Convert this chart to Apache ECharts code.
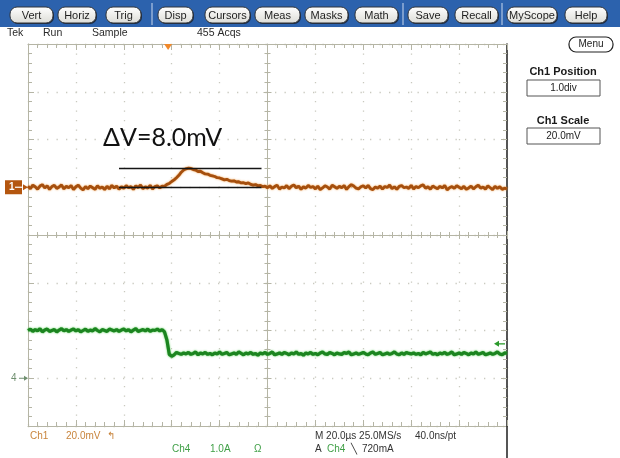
<!DOCTYPE html>
<html>
<head>
<meta charset="utf-8">
<script src="https://cdn.jsdelivr.net/npm/echarts@6/dist/echarts.min.js"></script>
<style>
  html, body { margin: 0; padding: 0; background: #ffffff; }
  #scope { width: 620px; height: 458px; }
</style>
</head>
<body>
<div id="scope"></div>
<script>
// ---- acquisition settings ----
const sampleStepUs = 1;          // record spacing, µs
const timePerDivUs = 20;         // M 20.0µs
const ch1ScaleMv = 20;           // Ch1 20.0mV/div
const ch1PositionDiv = 1.0;      // Ch1 position 1.0div
const ch4ScaleA = 1.0;           // Ch4 1.0A/div
const ch4PositionDiv = -3;       // Ch4 ground marker
const triggerUs = 58.5;          // trigger point on the record
const triggerLevelA = 0.72;      // A Ch4 \ 720mA

// ---- Ch1 voltage (mV), one sample per µs ----
const ch1Mv = [
  0.4,-0.6,0.9,0.2,-0.8,0.5,1.1,-0.3,0.6,-0.9,0.3,0.8,-0.5,0.1,1.0,-0.7,0.4,-0.2,0.7,-1.0,
  0.2,0.9,-0.4,-1.1,0.3,-0.6,0.5,-0.2,-0.9,0.6,-0.4,0.1,-1.0,0.4,-0.7,0.8,-0.3,0.5,-0.8,0.2,
  -0.5,0.7,-0.2,0.3,-0.9,0.6,-0.1,0.9,-0.6,0.2,-0.4,0.8,-0.7,0.3,0.6,-0.3,0.5,
  0.4,1.2,1.6,2.4,3.1,4.0,5.0,6.3,7.2,7.7,
  8.0,7.9,7.4,7.2,6.6,6.7,6.1,5.6,5.5,5.0,
  4.8,4.5,4.0,3.9,3.5,3.1,3.3,2.8,2.6,2.7,
  2.2,2.3,1.8,1.9,1.5,1.8,1.2,0.9,1.1,0.6,
  0.8,0.2,0.5,-0.2,
  0.6,-0.5,0.3,0.9,-0.8,0.1,-0.3,0.7,-0.6,0.4,1.0,-0.2,0.5,-0.9,0.2,-0.4,0.8,-0.1,0.3,-0.7,
  0.5,-1.0,-0.3,0.6,0.1,-0.8,0.9,0.2,-0.5,0.4,-0.2,0.7,-0.9,0.3,1.1,0.5,-0.4,-0.7,0.2,0.6,
  -0.3,0.8,-0.6,-1.0,0.1,-0.4,0.5,-0.8,0.3,-0.1,0.9,-0.6,0.2,-0.9,0.4,0.7,-0.2,0.1,-0.5,0.8,
  -0.7,0.3,-0.2,0.6,1.0,-0.4,0.2,-0.8,0.5,-0.1,-0.6,0.4,-0.3,0.8,-1.1,-0.2,0.3,-0.5,0.7,0.0,
  -0.6,0.4,-0.9,-0.3,0.5,-0.7,0.2,0.9,-0.4,0.1,-0.8,0.6,-0.2,-1.0,0.4,-0.5,0.2,-0.9,-0.4,-0.7
];

// ---- Ch4 current (A), one sample per µs ----
const ch4Amp = [
  1.00,1.03,0.98,1.02,0.99,1.04,0.97,1.01,1.03,0.98,1.00,1.02,0.97,1.01,1.04,0.99,1.02,0.98,1.01,1.03,
  0.99,1.02,0.97,1.00,1.03,0.98,1.01,0.99,1.04,1.00,0.97,1.02,1.00,0.98,1.03,1.01,0.99,1.02,0.98,1.01,
  1.03,0.99,1.02,0.97,1.01,1.04,0.98,1.00,1.02,0.99,1.03,0.98,1.01,1.00,1.03,0.99,1.02,0.97,
  0.80,0.50,0.46,0.49,0.54,0.52,0.50,0.53,
  0.51,0.54,0.50,0.52,0.55,0.49,0.53,0.51,0.54,0.50,0.52,0.49,0.53,0.51,0.55,
  0.50,0.52,0.54,0.49,0.51,0.53,0.50,0.55,0.52,0.49,0.53,0.51,0.54,0.50,0.52,0.48,0.53,0.51,0.54,0.50,
  0.52,0.55,0.49,0.51,0.53,0.50,0.54,0.52,0.49,0.53,0.51,0.55,0.50,0.52,0.48,0.53,0.51,0.54,0.50,0.52,
  0.49,0.53,0.55,0.51,0.50,0.54,0.52,0.49,0.53,0.51,0.50,0.54,0.52,0.55,0.49,0.51,0.53,0.50,0.52,0.54,
  0.51,0.49,0.53,0.55,0.50,0.52,0.54,0.49,0.51,0.53,0.50,0.52,0.55,0.51,0.49,0.53,0.50,0.54,0.52,0.51,
  0.53,0.50,0.52,0.49,0.54,0.51,0.53,0.55,0.50,0.52,0.49,0.53,0.51,0.54,0.50,0.52,0.55,0.49,0.51,0.53,
  0.50,0.54,0.52,0.49,0.53,0.51,0.55,0.50,0.52,0.54,0.49,0.51,0.53,0.50,0.52,0.55,0.51,0.49,0.53,0.52
];

// ---- ΔV cursor pair ----
const dvSpanUs = [38, 97.5];
const dvLevelsMv = [0, 8.0];

// ---- front-panel texts ----
const menuButtons = ['Vert','Horiz','Trig','Disp','Cursors','Meas','Masks','Math','Save','Recall','MyScope','Help'];
const statusTexts = ['Tek', 'Run', 'Sample', '455 Acqs'];

// ---------------------------------------------------------------
const DIV_X = 10, DIV_Y = 8;
const timeMax = DIV_X * timePerDivUs;
const ch1Min = (-DIV_Y / 2 - ch1PositionDiv) * ch1ScaleMv;
const ch1Max = (DIV_Y / 2 - ch1PositionDiv) * ch1ScaleMv;
const ch4Min = (-DIV_Y / 2 - ch4PositionDiv) * ch4ScaleA;
const ch4Max = (DIV_Y / 2 - ch4PositionDiv) * ch4ScaleA;

const FONT = '"Liberation Sans", Arial, sans-serif';
const GRID = { left: 28, top: 44, right: 113, bottom: 32 };
const gratColor = '#b5b5a5';
const dotColor = '#c9c9bf';

function gratAxis(extra) {
  return Object.assign({
    type: 'value',
    interval: 1,
    axisLabel: { show: false },
    axisLine: { show: true, onZero: false, lineStyle: { color: gratColor, width: 1 } },
    axisTick: { show: true, inside: true, length: 6, lineStyle: { color: gratColor } },
    minorTick: { show: true, splitNumber: 5, length: 4, lineStyle: { color: gratColor } },
    splitLine: { show: false },
    minorSplitLine: { show: false }
  }, extra);
}
const dottedSplit = { show: true, lineStyle: { color: dotColor, width: 1.3, type: [1.3, 8.2] } };

const chart = echarts.init(document.getElementById('scope'), null, { renderer: 'canvas' });

const option = {
  animation: false,
  backgroundColor: '#ffffff',
  grid: Object.assign({ containLabel: false }, GRID),
  xAxis: [
    { type: 'value', min: 0, max: timeMax, show: false },
    gratAxis({ min: -5, max: 5, position: 'bottom', splitLine: dottedSplit }),
    gratAxis({ min: -5, max: 5, position: 'top' }),
    gratAxis({ min: -5, max: 5, position: 'bottom',
      axisLine: { show: true, onZero: true, onZeroAxisIndex: 2, lineStyle: { color: gratColor } },
      axisTick: { show: true, inside: true, length: 4, lineStyle: { color: gratColor } },
      minorTick: { show: true, splitNumber: 5, length: 3, lineStyle: { color: gratColor } } }),
    gratAxis({ min: -5, max: 5, position: 'bottom',
      axisLine: { show: false, onZero: true, onZeroAxisIndex: 2 },
      axisTick: { show: true, inside: false, length: 4, lineStyle: { color: gratColor } },
      minorTick: { show: true, splitNumber: 5, length: 3, lineStyle: { color: gratColor } } })
  ],
  yAxis: [
    { type: 'value', min: ch1Min, max: ch1Max, show: false },
    { type: 'value', min: ch4Min, max: ch4Max, show: false },
    gratAxis({ min: -4, max: 4, position: 'left', splitLine: dottedSplit }),
    gratAxis({ min: -4, max: 4, position: 'right',
      axisLine: { show: true, onZero: false, lineStyle: { color: '#2b2b2b', width: 1.6 } } }),
    gratAxis({ min: -4, max: 4, position: 'left',
      axisLine: { show: true, onZero: true, onZeroAxisIndex: 1, lineStyle: { color: gratColor } },
      axisTick: { show: true, inside: true, length: 4, lineStyle: { color: gratColor } },
      minorTick: { show: true, splitNumber: 5, length: 3, lineStyle: { color: gratColor } } }),
    gratAxis({ min: -4, max: 4, position: 'left',
      axisLine: { show: false, onZero: true, onZeroAxisIndex: 1 },
      axisTick: { show: true, inside: false, length: 4, lineStyle: { color: gratColor } },
      minorTick: { show: true, splitNumber: 5, length: 3, lineStyle: { color: gratColor } } })
  ],
  series: [
    {
      name: 'Ch1', type: 'line', xAxisIndex: 0, yAxisIndex: 0, z: 3,
      showSymbol: false, symbol: 'none',
      data: ch1Mv.map((v, i) => [i * sampleStepUs, v]),
      lineStyle: { color: '#a54f0e', width: 2.8, shadowColor: 'rgba(236,140,40,0.9)', shadowBlur: 2 }
    },
    {
      name: 'Ch4', type: 'line', xAxisIndex: 0, yAxisIndex: 1, z: 3,
      showSymbol: false, symbol: 'none',
      data: ch4Amp.map((v, i) => [i * sampleStepUs, v]),
      lineStyle: { color: '#1c8420', width: 3.2, shadowColor: 'rgba(60,200,60,0.9)', shadowBlur: 2 }
    },
    {
      name: 'dV', type: 'line', xAxisIndex: 0, yAxisIndex: 0, z: 6, data: [],
      markLine: {
        silent: true, symbol: ['none', 'none'], label: { show: false },
        lineStyle: { color: '#151515', width: 1.3, type: 'solid' },
        data: dvLevelsMv.map(l => [{ coord: [dvSpanUs[0], l] }, { coord: [dvSpanUs[1], l] }])
      }
    }
  ]
};
chart.setOption(option);

// ---- front panel decorations ----
const px = v => chart.convertToPixel({ xAxisIndex: 0 }, v);
const pyCh1 = v => chart.convertToPixel({ yAxisIndex: 0 }, v);
const pyCh4 = v => chart.convertToPixel({ yAxisIndex: 1 }, v);

const btnSpans = [[10,53],[58,96],[106,141],[158,193],[205,250],[255,300],[305,348],[355,398],[408,448],[455,498],[507,557],[565,607]];
const g = [];

// toolbar
g.push({ type: 'rect', shape: { x: 0, y: 0, width: 620, height: 27 }, style: { fill: '#2c62ad' }, z: 10 });
[152, 403, 502].forEach(x => g.push({ type: 'line', shape: { x1: x, y1: 3, x2: x, y2: 25 }, style: { stroke: '#c9d8ee', lineWidth: 1 }, z: 11 }));
menuButtons.forEach((name, i) => {
  const [a, b] = btnSpans[i];
  g.push({ type: 'rect', shape: { x: a + 1, y: 8, width: b - a, height: 16, r: 7 }, style: { fill: '#1c2a40' }, z: 11 });
  g.push({ type: 'rect', shape: { x: a, y: 7, width: b - a, height: 16, r: 7 },
    style: { fill: new echarts.graphic.LinearGradient(0, 0, 0, 1, [{ offset: 0, color: '#ffffff' }, { offset: 1, color: '#dcdcd6' }]), stroke: '#30343a', lineWidth: 1 }, z: 12 });
  g.push({ type: 'text', x: (a + b) / 2, y: 15.5, style: { text: name, font: '11px ' + FONT, fill: '#1e1e1e', align: 'center', verticalAlign: 'middle' }, z: 13 });
});

// status row
const statusX = [7, 43, 92, 197];
statusTexts.forEach((t, i) => g.push({ type: 'text', x: statusX[i], y: 33, style: { text: t, font: '10.5px ' + FONT, fill: '#2a2a2a', verticalAlign: 'middle' }, z: 10 }));

// trigger position marker on the top ruler
const tx = px(triggerUs);
g.push({ type: 'polygon', shape: { points: [[tx - 4, 44], [tx + 4, 44], [tx, 50]] }, style: { fill: '#f0882a' }, z: 10 });

// Ch1 ground badge
const y1 = pyCh1(0);
g.push({ type: 'rect', shape: { x: 5, y: y1 - 7, width: 17, height: 14 }, style: { fill: '#b4560f' }, z: 10 });
g.push({ type: 'text', x: 9, y: y1, style: { text: '1', font: 'bold 10px ' + FONT, fill: '#ffffff', verticalAlign: 'middle' }, z: 11 });
g.push({ type: 'line', shape: { x1: 15, y1: y1, x2: 27, y2: y1 }, style: { stroke: '#ffffff', lineWidth: 1.2 }, z: 11 });
g.push({ type: 'polygon', shape: { points: [[23, y1 - 3], [28, y1], [23, y1 + 3]] }, style: { fill: '#b4560f' }, z: 11 });

// Ch4 ground marker
const y4 = pyCh4(0);
g.push({ type: 'text', x: 11, y: y4, style: { text: '4', font: '10px ' + FONT, fill: '#6f8f6f', verticalAlign: 'middle' }, z: 10 });
g.push({ type: 'line', shape: { x1: 19, y1: y4, x2: 27, y2: y4 }, style: { stroke: '#6f8f6f', lineWidth: 1 }, z: 10 });
g.push({ type: 'polygon', shape: { points: [[24, y4 - 2.5], [28, y4], [24, y4 + 2.5]] }, style: { fill: '#6f8f6f' }, z: 10 });

// trigger level arrow (right edge)
const yt = pyCh4(triggerLevelA);
g.push({ type: 'line', shape: { x1: 497, y1: yt, x2: 505, y2: yt }, style: { stroke: '#2b9a2b', lineWidth: 1.3 }, z: 10 });
g.push({ type: 'polygon', shape: { points: [[499, yt - 3], [494, yt], [499, yt + 3]] }, style: { fill: '#2b9a2b' }, z: 10 });

// right edge continues below the graticule
g.push({ type: 'line', shape: { x1: 507, y1: 426, x2: 507, y2: 458 }, style: { stroke: '#2b2b2b', lineWidth: 1.6 }, z: 10 });

// ΔV annotation
const dv = dvLevelsMv[1] - dvLevelsMv[0];
g.push({ type: 'text', x: px(dvSpanUs[0]) - 16, y: pyCh1(dvLevelsMv[1]) - 30,
  style: { text: 'ΔV=' + dv.toFixed(1) + 'mV', font: '25px Lato, "Open Sans", sans-serif', fill: '#111111', verticalAlign: 'middle' }, z: 10 });

// side menu
g.push({ type: 'rect', shape: { x: 569, y: 37, width: 44, height: 15, r: 7 }, style: { fill: '#ffffff', stroke: '#222', lineWidth: 1.2 }, z: 10 });
g.push({ type: 'text', x: 591, y: 44.5, style: { text: 'Menu', font: '10px ' + FONT, fill: '#222', align: 'center', verticalAlign: 'middle' }, z: 11 });
g.push({ type: 'text', x: 563, y: 72, style: { text: 'Ch1 Position', font: 'bold 11px ' + FONT, fill: '#1a1a1a', align: 'center', verticalAlign: 'middle' }, z: 10 });
g.push({ type: 'rect', shape: { x: 527, y: 80, width: 73, height: 16 }, style: { fill: '#ffffff', stroke: '#555', lineWidth: 1 }, z: 10 });
g.push({ type: 'text', x: 563.5, y: 88, style: { text: ch1PositionDiv.toFixed(1) + 'div', font: '10px ' + FONT, fill: '#222', align: 'center', verticalAlign: 'middle' }, z: 11 });
g.push({ type: 'text', x: 563, y: 121, style: { text: 'Ch1 Scale', font: 'bold 11px ' + FONT, fill: '#1a1a1a', align: 'center', verticalAlign: 'middle' }, z: 10 });
g.push({ type: 'rect', shape: { x: 527, y: 128, width: 73, height: 16 }, style: { fill: '#ffffff', stroke: '#555', lineWidth: 1 }, z: 10 });
g.push({ type: 'text', x: 563.5, y: 136, style: { text: ch1ScaleMv.toFixed(1) + 'mV', font: '10px ' + FONT, fill: '#222', align: 'center', verticalAlign: 'middle' }, z: 11 });

// readouts under the graticule
const readouts = [
  ['Ch1', 30, 436, '#c8843c'], [ch1ScaleMv.toFixed(1) + 'mV', 66, 436, '#c8843c'], ['↰', 107, 436, '#c8843c'],
  ['Ch4', 172, 449, '#3f9f46'], [ch4ScaleA.toFixed(1) + 'A', 210, 449, '#3f9f46'], ['Ω', 254, 449, '#3f9f46'],
  ['M ' + timePerDivUs.toFixed(1) + 'µs 25.0MS/s', 315, 436, '#333333'], ['40.0ns/pt', 415, 436, '#333333'],
  ['A', 315, 449, '#333333'], ['Ch4', 327, 449, '#3f9f46'], ['╲', 351, 449, '#333333'],
  [(triggerLevelA * 1000).toFixed(0) + 'mA', 362, 449, '#333333']
];
readouts.forEach(([t, x, y, c]) => g.push({ type: 'text', x: x, y: y, style: { text: t, font: '10px ' + FONT, fill: c, verticalAlign: 'middle' }, z: 10 }));

chart.setOption({ graphic: { elements: g } });
</script>
</body>
</html>
